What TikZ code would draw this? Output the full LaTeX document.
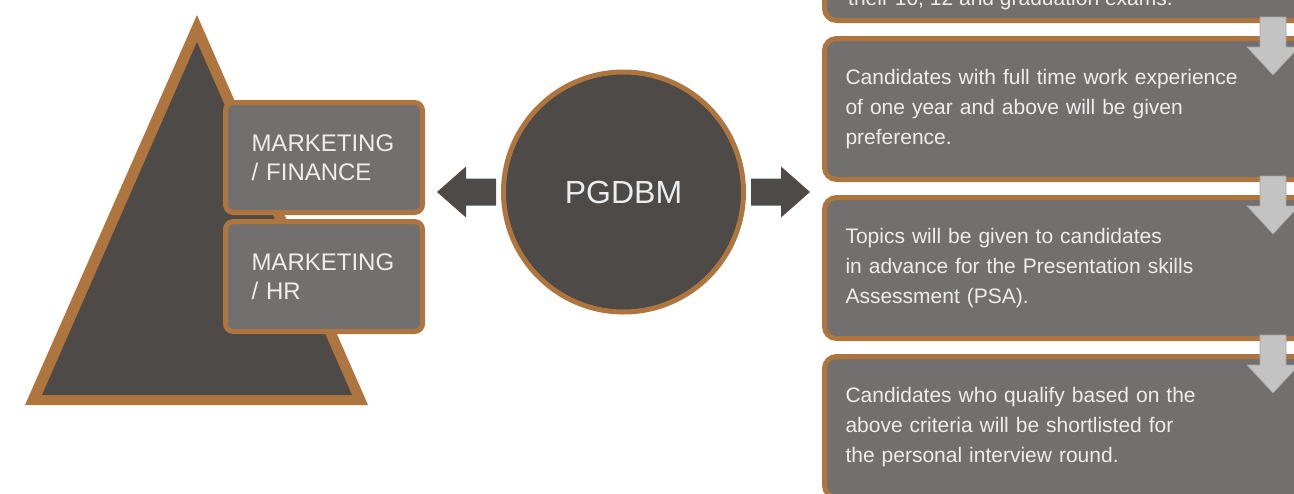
\documentclass[tikz,border=0pt]{standalone}
\usepackage{fontspec}
\setmainfont{Liberation Sans}
\usetikzlibrary{positioning}
\definecolor{brownline}{HTML}{AE763E}
\definecolor{darkfill}{HTML}{4E4A47}
\definecolor{boxfill}{HTML}{72706E}
\definecolor{boxtext}{HTML}{EDEDED}
\definecolor{arrowgray}{HTML}{C3C3C3}
\tikzset{
  specbox/.style={draw=brownline, line width=5pt, fill=boxfill, rounded corners=8pt,
    minimum width=197pt, minimum height=110pt, inner xsep=26pt, text width=145pt,
    align=left, text=boxtext, font=\fontsize{24}{29}\selectfont},
  critbox/.style={draw=brownline, line width=5pt, fill=boxfill, rounded corners=12pt,
    minimum width=520pt, minimum height=141pt, inner xsep=21pt, text width=478pt,
    align=left, text=boxtext, font=\fontsize{21}{30}\selectfont},
  downarrow/.style={fill=arrowgray, draw=arrowgray!85!black, line width=0.6pt}
}
\begin{document}
\begin{tikzpicture}[x=1pt, y=-1pt]
  \clip (0, 0) rectangle (1294, 493);
  \fill[white] (0, 0) rectangle (1294, 493);
  % pyramid
  \fill[brownline] (197, 15) -- (25, 405) -- (368, 405) -- cycle;
  \fill[darkfill] (197, 42) -- (42, 395) -- (352, 395) -- cycle;
  \node[specbox] (mktfin) at (324, 157.5) {MARKETING\\/ FINANCE};
  \node[specbox, below=4pt of mktfin] (mkthr) {MARKETING\\/ HR};
  % centre
  \node[circle, draw=brownline, line width=5pt, fill=darkfill, minimum size=240pt,
    text=boxtext, font=\fontsize{32}{38}\selectfont] (pgdbm) at (623.5, 192) {PGDBM};
  \fill[darkfill] ([xshift=-5pt]pgdbm.west) ++(0, -13.5) -- ++(-30, 0) -- ++(0, -12)
    -- ++(-29, 25.5) -- ++(29, 25.5) -- ++(0, -12) -- ++(30, 0) -- cycle;
  \fill[darkfill] ([xshift=5pt]pgdbm.east) ++(0, -13.5) -- ++(30, 0) -- ++(0, -12)
    -- ++(29, 25.5) -- ++(-29, 25.5) -- ++(0, -12) -- ++(-30, 0) -- cycle;
  % criteria
  \node[critbox, anchor=north west] (crit0) at (822, -123) {};
  \node[text=boxtext, font=\fontsize{21}{30}\selectfont, anchor=base west, inner sep=0pt]
    (crit0txt) at (848, 5) {their 10, 12 and graduation exams.};
  \node[critbox, below=13pt of crit0] (crit1) {Candidates with full time work experience\\
    of one year and above will be given\\preference.};
  \node[critbox, below=13pt of crit1] (crit2) {Topics will be given to candidates\\
    in advance for the Presentation skills\\Assessment (PSA).};
  \node[critbox, below=13pt of crit2] (crit3) {Candidates who qualify based on the\\
    above criteria will be shortlisted for\\the personal interview round.};
  \coordinate (dx) at (1273, 0);
  \foreach \a in {crit0, crit1, crit2}
    \filldraw[downarrow] (\a.south -| dx) ++(-13, -6) -- ++(26, 0) -- ++(0, 30) -- ++(13, 0)
      -- ++(-26, 28) -- ++(-26, -28) -- ++(13, 0) -- cycle;
\end{tikzpicture}
\end{document}
